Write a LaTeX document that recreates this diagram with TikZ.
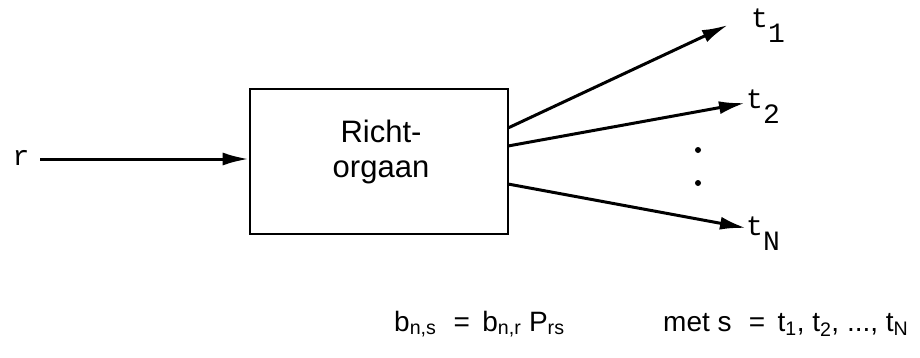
\documentclass[tikz,border=0pt]{standalone}
\usepackage{fontspec}
\setmainfont{Liberation Sans}
\newfontfamily\monof{Liberation Mono}
\usetikzlibrary{arrows.meta}
\begin{document}
\begin{tikzpicture}[x=1pt,y=-1pt,
  conn/.style={line width=3pt,-{Latex[length=26pt,width=13pt]}},
  mono/.style={font=\monof\fontsize{28}{28}\selectfont,inner sep=0pt},
  sans/.style={font=\fontsize{31}{35}\selectfont,inner sep=0pt},
  formula/.style={font=\fontsize{28}{28}\selectfont,inner sep=0pt,anchor=base west}]
\useasboundingbox (0,0) rectangle (920,357);
\node[draw,line width=2.6pt,minimum width=258pt,minimum height=145pt,inner sep=0pt] (box) at (379,161.5) {};
\node[sans,align=center,anchor=base] (lbl) at (381,177) {Richt-\\orgaan};
\node[mono,anchor=base] (r) at (21,165) {r};
\coordinate (o1) at (508,128);
\coordinate (o2) at (508,146);
\coordinate (o3) at (508,184);
\coordinate (e1) at (728,25);
\node[mono,anchor=base west] (t1) at (751,27) {t\raisebox{-15pt}{1}};
\node[mono,anchor=base west] (t2) at (746,108) {t\raisebox{-15pt}{2}};
\node[mono,anchor=base west] (tN) at (746,235) {t\raisebox{-15pt}{N}};
\coordinate (in0) at (40,159);
\draw[conn] (in0) -- (box.west |- in0);
\draw[conn] (o1) -- (e1);
\draw[conn] (o2) -- (745,103);
\draw[conn] (o3) -- (746,228);
\fill (698,150) circle (3pt);
\fill (698,183) circle (3pt);
\node[formula] (f1) at (394,331) {b\textsubscript{n,s}\,\, = \,b\textsubscript{n,r} P\textsubscript{rs}};
\node[formula] (f2) at (663,331) {met s\,\, = \,t\textsubscript{1}, t\textsubscript{2}, ..., t\textsubscript{N}};
\end{tikzpicture}
\end{document}
